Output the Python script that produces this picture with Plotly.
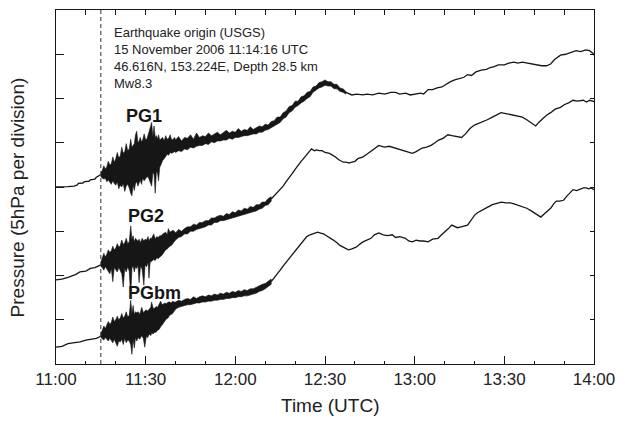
import plotly.graph_objects as go

INK = "#161616"

# ---- axis labels -------------------------------------------------------
tick_vals = [0, 30, 60, 90, 120, 150, 180]          # minutes after 11:00 UTC
tick_labels = ["11:00", "11:30", "12:00", "12:30", "13:00", "13:30", "14:00"]
minor_vals = [10, 20, 40, 50, 70, 80, 100, 110, 130, 140, 160, 170]
top_vals = [10, 20, 30, 40, 50, 60, 70, 80, 90, 100, 110, 120, 130, 140, 150, 160, 170]
y_ticks = [5, 10, 15, 20, 25, 30, 35]                 # hPa (5 hPa per division)
origin_min = 15.0                                     # earthquake origin line (as drawn)

# ---- PG1 ---------------------------------------------------------------
pg1_pre_t = [0, 2, 4, 6, 7, 7.5, 9, 9.5, 11, 11.5, 13, 13.5, 15]
pg1_pre_p = [20.0, 20.0, 20.05, 20.1, 20.2, 20.4, 20.45, 20.6, 20.65, 20.8, 20.9, 21.1, 21.4]

pg1_env_t = [15.0, 15.5, 16.0, 16.5, 17.0, 17.5, 18.0, 18.5, 19.0, 19.5, 20.0, 20.5, 21.0, 21.5,
             22.0, 22.5, 23.0, 23.5, 24.0, 24.5, 25.0, 25.4, 25.8, 26.2, 26.6, 27.0, 27.4, 27.8,
             28.2, 28.6, 29.0, 29.5, 30.0, 30.5, 31.0, 31.5, 32.0, 32.4, 32.8, 33.2, 33.6, 34.0,
             34.3, 34.7, 35.2, 35.7, 36.2, 36.7, 37.2, 37.7, 38.2, 38.7, 39.2, 39.7,
             40, 41, 42, 43, 44, 45, 46, 47, 48, 49, 50, 51, 52, 53, 54, 55, 56, 57, 58, 59,
             60, 61, 62, 63, 64, 65, 66, 67, 68, 69, 70, 71, 72, 73, 74, 75, 76, 77, 78, 79,
             80, 81, 82, 83, 84, 85, 86, 87, 88, 89, 90, 91, 92, 93, 94, 95, 96, 97]
pg1_env_hi = [21.6, 21.9, 22.4, 22.0, 22.3, 22.9, 22.5, 22.6, 23.4, 22.8,
              23.2, 23.9, 23.3, 23.5, 24.5, 23.8, 24.0, 24.9, 24.1, 24.3,
              25.4, 24.5, 24.7, 24.9, 25.9, 26.3, 25.0, 25.2, 25.6, 25.1,
              25.3, 26.0, 25.3, 25.5, 26.1, 26.6, 27.3, 25.7, 26.9, 25.6,
              25.8, 25.4, 25.9, 25.3, 25.5, 25.6, 25.2, 25.8, 25.4, 25.5,
              25.9, 25.3, 25.4, 25.6,
              25.3, 25.7, 25.2, 25.6, 25.5, 25.9, 25.4, 26.1, 25.6, 25.8,
              25.7, 26.1, 25.8, 26.0, 26.2, 25.9, 26.1, 26.4, 26.1, 26.3,
              26.2, 26.6, 26.3, 26.5, 26.4, 26.8, 26.5, 26.7, 26.9, 26.8,
              27.1, 27.0, 27.4, 27.5, 27.9, 27.9, 28.4, 28.6, 29.1, 29.2,
              29.7, 29.7, 30.2, 30.3, 30.7, 30.8, 31.3, 31.4, 31.8, 31.9,
              32.1, 31.9, 31.9, 31.6, 31.6, 31.2, 31.1, 30.8]
pg1_env_lo = [21.2, 21.0, 20.9, 21.0, 20.6, 20.8, 20.6, 20.3, 20.7, 20.4,
              20.2, 20.6, 19.8, 20.2, 20.0, 20.4, 19.5, 20.1, 20.3, 19.9,
              19.3, 19.0, 20.2, 19.6, 20.4, 20.6, 20.1, 20.5, 20.8, 20.3,
              21.0, 20.7, 20.9, 21.2, 21.0, 20.7, 20.1, 21.6, 21.4, 19.3,
              21.8, 21.5, 20.7, 22.2, 22.6, 23.0, 23.2, 23.4, 23.7, 23.6,
              23.9, 23.8, 23.9, 24.0,
              23.9, 24.1, 24.0, 24.3, 24.2, 24.5, 24.4, 24.6, 24.7, 24.7,
              24.9, 24.8, 25.1, 25.0, 25.2, 25.2, 25.3, 25.3, 25.5, 25.4,
              25.6, 25.6, 25.7, 25.8, 25.8, 25.9, 26.0, 26.0, 26.2, 26.2,
              26.4, 26.5, 26.7, 26.9, 27.1, 27.3, 27.7, 27.9, 28.4, 28.6,
              29.0, 29.2, 29.5, 29.7, 30.0, 30.2, 30.7, 30.9, 31.2, 31.3,
              31.5, 31.4, 31.4, 31.1, 31.1, 30.8, 30.7, 30.5]

pg1_post_t = [97, 99, 100.5, 102.7, 104, 106, 108, 110, 112, 113.6, 115, 117, 118.5, 120.2, 122,
              123, 124.5, 126, 127.5, 129.1, 130.5, 132, 133.4, 135, 136.5, 137.7, 139, 140.5,
              142.3, 144, 145.3, 146.6, 148, 150, 151.5, 153.2, 154.5, 156, 157.5, 159, 160.8,
              162.5, 164.1, 165.5, 166.8, 168.8, 170.5, 172, 174, 175.5, 177.3, 178.5, 179.7, 180]
pg1_post_p = [30.7, 30.4, 30.5, 30.4, 30.5, 30.4, 30.6, 30.5, 30.7, 30.7, 30.5, 30.6, 30.4, 30.5,
              30.6, 30.5, 31.0, 31.0, 31.2, 31.3, 31.6, 31.9, 32.1, 32.3, 32.4, 32.7, 32.6, 33.0,
              33.2, 33.3, 33.5, 33.6, 33.8, 33.8, 34.0, 34.1, 34.0, 34.1, 34.0, 33.9, 33.8, 33.7,
              33.7, 33.9, 34.4, 34.9, 35.0, 35.2, 35.4, 35.3, 35.5, 35.4, 35.1, 34.9]

# ---- PG2 ---------------------------------------------------------------
pg2_pre_t = [0, 2, 4, 5, 6.5, 8, 10, 11.5, 13, 15]
pg2_pre_p = [9.5, 9.6, 9.8, 9.9, 10.1, 10.4, 10.5, 10.8, 10.9, 11.2]

pg2_env_t = [15.0, 15.5, 16.0, 16.5, 17.0, 17.5, 18.0, 18.5, 19.0, 19.5, 20.0, 20.5, 21.0, 21.5,
             22.0, 22.5, 23.0, 23.5, 24.0, 24.5, 25.0, 25.4, 25.8, 26.2, 26.6, 27.0, 27.4, 27.8,
             28.3, 28.8, 29.4, 29.8, 30.3, 30.8, 31.1, 31.5, 32.0, 32.7, 33.2, 33.7, 34.2, 34.7,
             35.2, 35.7, 36.2, 36.7, 37.2, 37.6, 38.1, 38.6, 39.1, 39.6,
             40, 41, 42, 43, 44, 45, 46, 47, 48, 49, 50, 51, 52, 53, 54, 55, 56, 57, 58, 59,
             60, 61, 62, 63, 64, 65, 66, 67, 68, 69, 70, 71, 72]
pg2_env_hi = [11.5, 11.9, 12.5, 12.1, 12.4, 12.9, 12.6, 12.8, 13.3, 12.9,
              13.1, 13.6, 13.2, 13.4, 14.0, 13.5, 13.7, 14.2, 13.6, 13.8,
              15.6, 14.1, 14.5, 13.8, 14.2, 14.0, 13.9, 14.1, 13.7, 14.2,
              13.9, 14.1, 14.0, 14.4, 13.9, 14.2, 14.2, 14.7, 14.1, 14.4,
              14.3, 14.5, 14.5, 14.7, 14.8, 14.9, 14.6, 15.3, 14.9, 15.0,
              15.1, 15.0,
              14.8, 15.2, 15.0, 15.3, 15.5, 15.5, 15.8, 15.7, 16.0, 16.0,
              16.2, 16.2, 16.5, 16.5, 16.7, 16.8, 16.7, 17.0, 16.9, 17.2,
              17.1, 17.4, 17.3, 17.6, 17.5, 17.8, 17.7, 18.0, 18.0, 18.3,
              18.3, 18.7, 18.9]
pg2_env_lo = [11.0, 10.9, 10.6, 11.0, 10.7, 10.5, 10.2, 10.8, 9.3, 10.9,
              10.7, 10.4, 10.9, 10.6, 10.2, 8.7, 10.8, 10.4, 11.0, 10.5,
              7.6, 10.8, 11.1, 10.4, 11.0, 10.8, 11.2, 9.2, 11.1, 10.7,
              8.9, 11.2, 11.0, 11.5, 9.7, 11.5, 11.6, 11.8, 11.7, 12.0,
              11.9, 12.1, 12.2, 12.4, 12.6, 12.9, 13.0, 13.1, 13.3, 13.4,
              13.6, 13.8,
              14.0, 14.3, 14.4, 14.7, 14.7, 15.0, 15.0, 15.2, 15.3, 15.4,
              15.5, 15.7, 15.7, 16.0, 16.0, 16.2, 16.2, 16.3, 16.4, 16.5,
              16.6, 16.7, 16.8, 16.9, 17.0, 17.1, 17.2, 17.3, 17.5, 17.6,
              17.9, 18.0, 18.4]

pg2_post_t = [72, 73, 74, 75, 76, 77, 78, 79, 80, 81, 82, 83, 84, 85, 85.5, 86.5, 87.2, 88, 89,
              90, 91.5, 92.5, 93.5, 94.5, 95.5, 96.1, 97, 98.1, 99, 100, 101, 102.7, 104, 105.5,
              107, 108, 109, 110, 111.5, 113.6, 115, 116.5, 118, 119.2, 120.5, 121.5, 122.5, 124,
              125.5, 126.8, 128, 129.5, 131.1, 132.5, 134, 135.7, 137, 138.5, 140, 141.5, 143,
              144.3, 146, 147.5, 148.9, 150.5, 152, 153.2, 154.5, 156, 157.5, 159, 160.5, 161.5,
              162.5, 164.1, 165.5, 167, 168.8, 170, 171.5, 173, 174.5, 176.4, 177.5, 178.5,
              179.7, 180]
pg2_post_p = [18.65, 19.0, 19.3, 19.7, 20.1, 20.6, 21.0, 21.5, 22.0, 22.5, 22.9, 23.3, 23.7, 24.1,
              24.3, 24.1, 24.2, 24.1, 24.1, 23.9, 23.8, 23.6, 23.4, 23.1, 22.9, 22.8, 22.8, 22.7,
              22.8, 22.9, 23.2, 23.4, 23.7, 24.1, 24.4, 24.7, 24.6, 24.5, 24.6, 24.4, 24.2, 24.1,
              23.9, 23.8, 24.0, 24.2, 24.4, 24.5, 24.7, 25.0, 25.3, 25.5, 25.9, 25.8, 25.7, 25.6,
              26.0, 26.6, 27.0, 27.2, 27.4, 27.6, 27.9, 28.2, 28.4, 28.3, 28.2, 28.1, 28.0, 27.9,
              27.6, 27.2, 26.9, 27.3, 27.6, 28.1, 28.4, 28.8, 29.0, 29.3, 29.5, 29.8, 29.7, 29.8,
              29.6, 29.8, 29.7, 29.6]

# ---- PGbm --------------------------------------------------------------
pgbm_pre_t = [0, 2, 4, 6, 8, 10, 12, 13.5, 14.5, 15]
pgbm_pre_p = [1.9, 2.0, 2.3, 2.4, 2.5, 2.7, 2.8, 2.9, 3.05, 3.2]

pgbm_env_t = [15.0, 15.5, 16.0, 16.5, 17.0, 17.5, 18.0, 18.5, 19.0, 19.5, 20.0, 20.5, 21.0, 21.5,
              22.0, 22.5, 23.0, 23.5, 24.0, 24.5, 25.0, 25.4, 25.8, 26.2, 26.6, 27.0, 27.5, 28.0,
              28.7, 29.2, 29.7, 30.2, 30.7, 31.2, 31.7, 32.0, 32.5, 33.0, 33.5, 34.0, 34.5, 35.0,
              35.5, 36.0, 36.5, 37.0, 37.5, 38.0, 38.5, 39.0, 39.5,
              40, 41, 42, 43, 44, 45, 46, 47, 48, 49, 50, 51, 52, 53, 54, 55, 56, 57, 58, 59,
              60, 61, 62, 63, 64, 65, 66, 67, 68, 69, 70, 71, 72]
pgbm_env_hi = [3.5, 3.8, 4.3, 4.0, 4.4, 4.8, 4.5, 4.7, 5.3, 4.8,
               5.0, 5.4, 5.0, 5.2, 5.7, 5.2, 5.4, 5.9, 5.3, 5.5,
               7.2, 5.7, 6.6, 5.6, 5.9, 5.8, 5.9, 5.6,
               6.4, 5.8, 6.0, 6.1, 6.0, 6.2, 6.4,
               7.0, 6.3, 6.3, 6.5, 6.4, 6.7, 7.1, 6.7, 6.8, 6.9, 6.8, 7.0, 7.0, 6.9, 7.1, 7.0,
               7.0, 7.2, 7.1, 7.3, 7.4, 7.3, 7.6, 7.4, 7.6, 7.7,
               7.6, 7.8, 7.7, 7.9, 7.8, 8.0, 7.9, 8.1, 8.0, 8.2,
               8.1, 8.3, 8.2, 8.4, 8.3, 8.5, 8.5, 8.7, 8.8, 9.0,
               9.1, 9.4, 9.6]
pgbm_env_lo = [3.0, 2.9, 2.7, 3.0, 2.8, 2.6, 2.9, 2.7, 2.4, 2.8,
               2.5, 2.0, 2.6, 2.5, 2.8, 2.2, 2.9, 2.4, 2.7, 2.6,
               2.2, 1.1, 2.8, 1.8, 3.0, 2.6, 3.0, 2.8,
               3.2, 2.9, 1.9, 3.1, 3.0, 3.4, 3.2,
               3.5, 3.4, 3.6, 3.6, 3.8, 3.9, 4.2, 4.4, 4.6, 4.9, 5.1, 5.2, 5.5, 5.6, 5.7, 5.9,
               6.2, 6.4, 6.5, 6.6, 6.7, 6.7, 6.8, 6.9, 6.9, 7.0,
               7.0, 7.1, 7.1, 7.2, 7.2, 7.3, 7.3, 7.4, 7.4, 7.5,
               7.5, 7.6, 7.6, 7.7, 7.7, 7.8, 7.9, 8.0, 8.2, 8.3,
               8.5, 8.7, 9.0]

pgbm_post_t = [72, 73, 74, 75, 76.3, 77.5, 78.5, 79.6, 80.5, 81.6, 82.5, 83.9, 85, 86.5, 87.5,
               88.5, 89.5, 90.5, 91.5, 92.8, 94, 95, 96.1, 97, 97.8, 99, 100.4, 101.5, 102.7,
               104, 105.4, 106.5, 108, 109.5, 111, 112.5, 113.6, 115, 116.9, 118, 119.2, 120.5,
               121.8, 123, 124.5, 126, 127.8, 129, 130.1, 131.3, 132.4, 133.4, 134.3, 135.5,
               136.6, 137.7, 139, 140, 141, 142.5, 144.3, 146, 147.6, 149, 150.5, 152, 153.2,
               155, 156.5, 157.5, 159, 160.5, 162.2, 163.5, 164.5, 165.5, 166.5, 167.4, 168.5,
               169.8, 171, 172, 173, 174.2, 175.4, 176.5, 177.3, 178.3, 179, 179.7, 180]
pgbm_post_p = [9.3, 9.7, 10.1, 10.6, 11.2, 11.7, 12.1, 12.5, 13.0, 13.4, 13.8, 14.4, 14.6, 14.8,
               14.9, 14.8, 14.7, 14.5, 14.3, 14.0, 13.7, 13.4, 13.2, 13.0, 12.9, 13.0, 13.2,
               13.5, 13.8, 14.0, 14.2, 14.6, 14.8, 14.6, 14.5, 14.6, 14.3, 14.4, 14.2, 13.9,
               13.8, 14.0, 13.9, 13.9, 13.8, 14.1, 14.2, 14.6, 14.9, 15.3, 15.7, 15.5, 15.4,
               15.5, 15.6, 15.7, 16.3, 16.8, 17.1, 17.4, 17.7, 18.0, 18.2, 18.3, 18.2, 18.2,
               18.1, 17.9, 17.8, 17.6, 17.3, 17.0, 16.6, 17.0, 17.3, 17.6, 18.1, 18.4, 18.4,
               18.5, 19.0, 19.4, 19.7, 19.6, 19.8, 19.9, 19.9, 19.8, 19.9, 19.7, 19.7]

gauge_names = ["PG1", "PG2", "PGbm"]
label_pos_t = [29.4, 30.1, 32.9]
label_pos_p = [28.0, 16.7, 8.0]

quake_text = ["Earthquake origin (USGS)", "15 November 2006 11:14:16 UTC",
              "46.616N, 153.224E, Depth 28.5 km", "Mw8.3"]

# ------------------------------------------------------------------------
fig = go.Figure()


def add_calm(t, p):
    assert len(t) == len(p), (len(t), len(p))
    fig.add_trace(go.Scatter(x=t, y=p, mode="lines",
                             line=dict(color=INK, width=1.3), hoverinfo="skip"))


def add_band(t, hi, lo):
    assert len(t) == len(hi) == len(lo), (len(t), len(hi), len(lo))
    fig.add_trace(go.Scatter(x=t + t[::-1], y=hi + lo[::-1], mode="lines",
                             fill="toself", fillcolor=INK,
                             line=dict(color=INK, width=0.6), hoverinfo="skip"))


add_calm(pg1_pre_t, pg1_pre_p)
add_band(pg1_env_t, pg1_env_hi, pg1_env_lo)
add_calm(pg1_post_t, pg1_post_p)

add_calm(pg2_pre_t, pg2_pre_p)
add_band(pg2_env_t, pg2_env_hi, pg2_env_lo)
add_calm(pg2_post_t, pg2_post_p)

add_calm(pgbm_pre_t, pgbm_pre_p)
add_band(pgbm_env_t, pgbm_env_hi, pgbm_env_lo)
add_calm(pgbm_post_t, pgbm_post_p)

# invisible trace that carries the mirrored (top / right) axes
fig.add_trace(go.Scatter(x=[0], y=[0], xaxis="x2", yaxis="y2", mode="markers",
                         marker=dict(opacity=0), hoverinfo="skip"))

# earthquake origin line
fig.add_shape(type="line", xref="x", yref="paper", x0=origin_min, x1=origin_min, y0=0, y1=1,
              line=dict(color="#333333", width=1, dash="4px,3px"))

FONT = "Liberation Sans, Arial, Helvetica, sans-serif"

for name, tx, py in zip(gauge_names, label_pos_t, label_pos_p):
    fig.add_annotation(x=tx, y=py, xref="x", yref="y", text="<b>%s</b>" % name,
                       showarrow=False, font=dict(size=18, color=INK, family=FONT),
                       xanchor="center", yanchor="middle")

fig.add_annotation(x=18.6, y=38.5, xref="x", yref="y", text="<br>".join(quake_text),
                   showarrow=False, align="left", xanchor="left", yanchor="top",
                   font=dict(size=13, color="#222222", family=FONT))

fig.add_annotation(x=-0.071, y=0.47, xref="paper", yref="paper",
                   text="Pressure (5hPa per division)", textangle=-90, showarrow=False,
                   xanchor="center", yanchor="middle",
                   font=dict(size=19, color="#222222", family=FONT))
fig.add_annotation(x=0.51, y=-0.116, xref="paper", yref="paper", text="Time (UTC)",
                   showarrow=False, xanchor="center", yanchor="middle",
                   font=dict(size=19, color="#222222", family=FONT))

axis_common = dict(showgrid=False, zeroline=False, showline=True, linecolor=INK,
                   linewidth=1, tickcolor=INK, tickwidth=1)

fig.update_layout(
    width=625, height=424,
    margin=dict(l=56, r=24, t=10, b=60),
    paper_bgcolor="white", plot_bgcolor="white",
    showlegend=False,
    font=dict(family=FONT, color="#222222"),
    xaxis=dict(range=[0, 180], tickmode="array", tickvals=tick_vals, ticktext=tick_labels,
               ticks="inside", ticklen=8, tickfont=dict(size=17),
               minor=dict(tickmode="array", tickvals=minor_vals, ticks="inside", ticklen=3.5,
                          tickcolor=INK, showgrid=False),
               **axis_common),
    xaxis2=dict(range=[0, 180], overlaying="x", side="top", anchor="y2",
                tickmode="array", tickvals=top_vals, ticks="inside", ticklen=5,
                showticklabels=False, **axis_common),
    yaxis=dict(range=[0, 40], tickmode="array", tickvals=y_ticks, ticks="inside", ticklen=8,
               showticklabels=False, **axis_common),
    yaxis2=dict(range=[0, 40], overlaying="y", side="right", anchor="x2",
                tickmode="array", tickvals=y_ticks, ticks="inside", ticklen=4,
                showticklabels=False, **axis_common),
)

fig.write_html("out.html")
